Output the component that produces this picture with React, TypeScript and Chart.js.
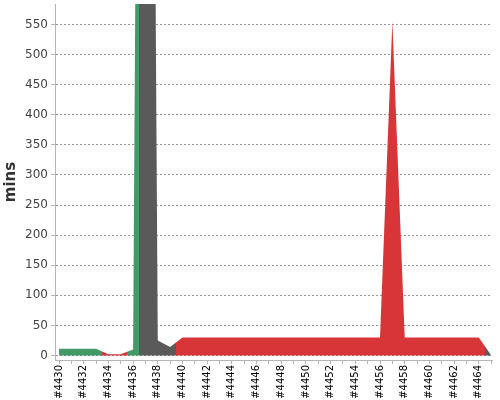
import React, { useEffect, useRef } from "react";
import { Chart, registerables } from "chart.js";

Chart.register(...registerables);

// Build numbers (x categories)
const builds = [
  4430, 4431, 4432, 4433, 4434, 4435, 4436, 4437, 4438, 4439,
  4440, 4441, 4442, 4443, 4444, 4445, 4446, 4447, 4448, 4449,
  4450, 4451, 4452, 4453, 4454, 4455, 4456, 4457, 4458, 4459,
  4460, 4461, 4462, 4463, 4464, 4465,
];

// Build durations in minutes (4437 ran far beyond the visible range)
const durations = [
  11, 11, 11, 11, 2, 2, 10, 3300, 25, 14,
  30, 30, 30, 30, 30, 30, 30, 30, 30, 30,
  30, 30, 30, 30, 30, 30, 30, 555, 30, 30,
  30, 30, 30, 30, 30, 0.5,
];

// Build results
const results = [
  "SUCCESS", "SUCCESS", "SUCCESS", "SUCCESS", "FAILURE", "FAILURE", "SUCCESS", "ABORTED", "ABORTED", "ABORTED",
  "FAILURE", "FAILURE", "FAILURE", "FAILURE", "FAILURE", "FAILURE", "FAILURE", "FAILURE", "FAILURE", "FAILURE",
  "FAILURE", "FAILURE", "FAILURE", "FAILURE", "FAILURE", "FAILURE", "FAILURE", "FAILURE", "FAILURE", "FAILURE",
  "FAILURE", "FAILURE", "FAILURE", "FAILURE", "FAILURE", "ABORTED",
];

const yTickValues = [0, 50, 100, 150, 200, 250, 300, 350, 400, 450, 500, 550];
const yAxisTitle = "mins";

const resultColors: Record<string, string> = {
  SUCCESS: "#439a69",
  FAILURE: "#d83539",
  ABORTED: "#5a5a5a",
};

const colorAt = (i: number) => resultColors[results[i]];

// Colour each build's stretch of the area from the midpoint before it to the midpoint after it
const areaFill = (ctx: any) => {
  const chart = ctx.chart;
  const area = chart.chartArea;
  const xs = chart.scales && chart.scales.x;
  if (!area || !xs) return colorAt(0);
  const left = area.left;
  const width = area.right - area.left;
  const g = chart.ctx.createLinearGradient(left, 0, area.right, 0);
  const frac = (px: number) => Math.min(1, Math.max(0, (px - left) / width));
  g.addColorStop(0, colorAt(0));
  for (let i = 0; i < builds.length - 1; i++) {
    const c0 = colorAt(i);
    const c1 = colorAt(i + 1);
    if (c0 === c1) continue;
    const mid = (xs.getPixelForValue(builds[i]) + xs.getPixelForValue(builds[i + 1])) / 2;
    const f = frac(mid);
    g.addColorStop(f, c0);
    g.addColorStop(f, c1);
  }
  g.addColorStop(1, colorAt(builds.length - 1));
  return g;
};

export default function App() {
  const canvasRef = useRef<HTMLCanvasElement | null>(null);

  useEffect(() => {
    const canvas = canvasRef.current;
    if (!canvas) return;

    const chart = new Chart(canvas, {
      type: "line",
      data: {
        datasets: [
          {
            data: builds.map((b, i) => ({ x: b, y: durations[i] })),
            fill: "origin",
            borderWidth: 0,
            borderColor: "rgba(0,0,0,0)",
            backgroundColor: areaFill,
            pointRadius: 0,
            tension: 0,
          } as any,
        ],
      },
      options: {
        responsive: false,
        animation: false,
        events: [],
        layout: { padding: { top: 4, right: 8, left: 0, bottom: 0 } },
        plugins: {
          legend: { display: false },
          tooltip: { enabled: false },
        },
        scales: {
          x: {
            type: "linear",
            min: 4429.676,
            max: 4465.07,
            afterBuildTicks: (scale: any) => {
              scale.ticks = builds.map((v) => ({ value: v }));
            },
            afterFit: (scale: any) => {
              scale.height = 40;
              scale.paddingLeft = 0;
              scale.paddingRight = 0;
            },
            ticks: {
              autoSkip: false,
              maxRotation: 90,
              minRotation: 90,
              padding: 1,
              color: "#000",
              font: { family: "DejaVu Sans", size: 10 },
              callback: (v: any) => (Number(v) % 2 === 0 ? "#" + v : ""),
            },
            grid: {
              drawOnChartArea: false,
              drawTicks: true,
              tickLength: 4,
              tickColor: "#b5b5b5",
            },
            border: { color: "#b5b5b5", width: 1 },
          },
          y: {
            type: "linear",
            min: -7.5,
            max: 584,
            afterBuildTicks: (scale: any) => {
              scale.ticks = yTickValues.map((v) => ({ value: v }));
            },
            afterFit: (scale: any) => {
              scale.width = 55;
              scale.paddingTop = 0;
              scale.paddingBottom = 0;
            },
            ticks: {
              padding: 3,
              color: "#444",
              font: { family: "DejaVu Sans", size: 12 },
            },
            title: {
              display: true,
              text: yAxisTitle,
              color: "#333",
              font: { family: "DejaVu Sans", size: 15, weight: "bold" },
              padding: { top: 2, bottom: 0 },
            },
            grid: {
              color: "rgba(0,0,0,0.42)",
              lineWidth: 1,
              drawTicks: true,
              tickLength: 4,
              tickColor: "#b5b5b5",
              tickBorderDash: [],
            },
            border: { color: "#b5b5b5", width: 1, dash: [2, 2] },
          },
        },
      } as any,
    });

    return () => chart.destroy();
  }, []);

  return (
    <div style={{ position: "fixed", left: 0, top: 0, width: 500, height: 400, background: "#fff" }}>
      <canvas ref={canvasRef} width={500} height={400} />
    </div>
  );
}
